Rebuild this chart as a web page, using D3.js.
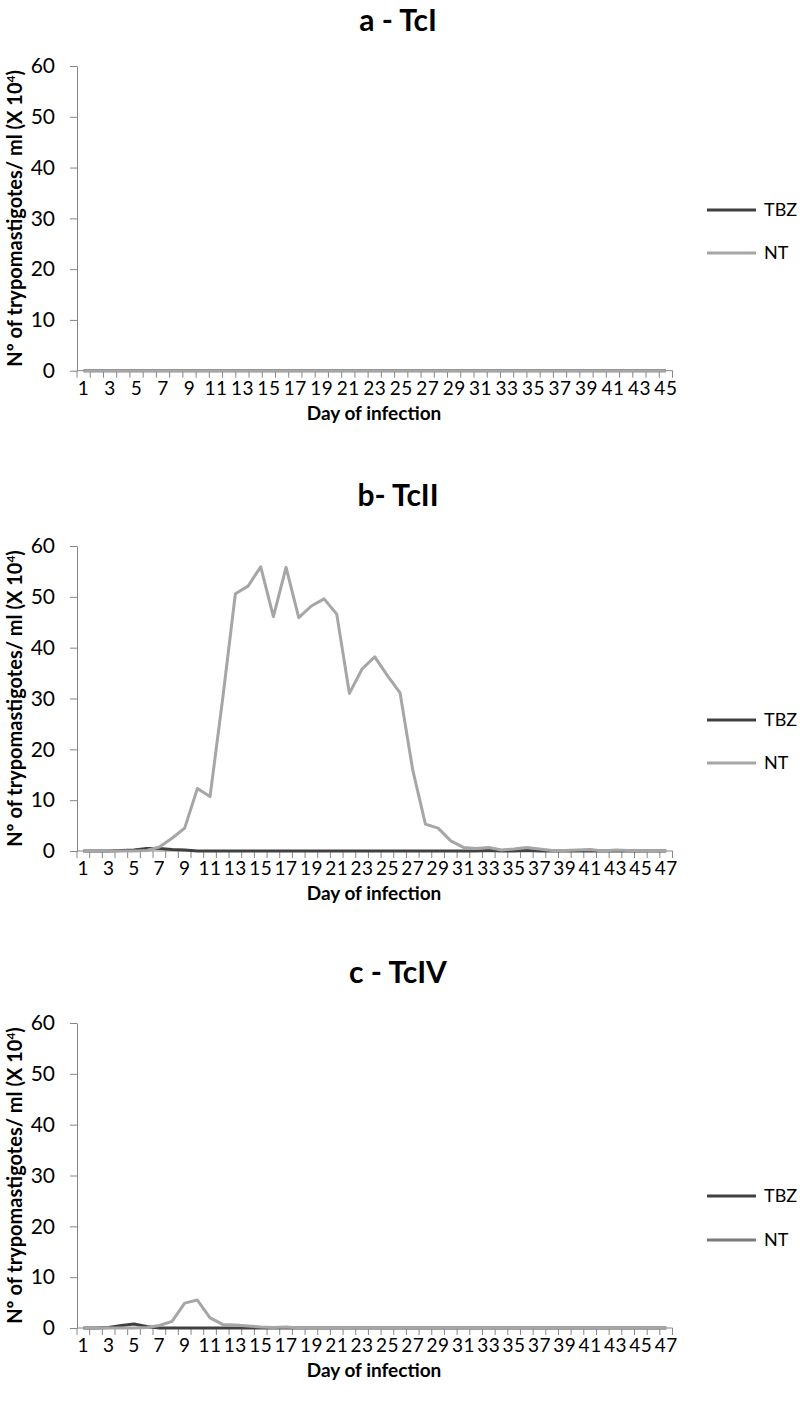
<!DOCTYPE html>
<html><head><meta charset="utf-8">
<script src="https://cdn.jsdelivr.net/npm/d3@7"></script>
<style>body{margin:0;background:#fff} text{font-family:Lato,"Open Sans",sans-serif;fill:#000}</style>
</head><body><svg id="chart" width="800" height="1402"></svg>
<script>
// ---- data ----
const daysA = [1,2,3,4,5,6,7,8,9,10,11,12,13,14,15,16,17,18,19,20,21,22,23,24,25,26,27,28,29,30,31,32,33,34,35,36,37,38,39,40,41,42,43,44,45];
const daysBC = [1,2,3,4,5,6,7,8,9,10,11,12,13,14,15,16,17,18,19,20,21,22,23,24,25,26,27,28,29,30,31,32,33,34,35,36,37,38,39,40,41,42,43,44,45,46,47];
const yTicks = [0,10,20,30,40,50,60];
const seriesNames = ["TBZ","NT"];
const panelTitles = ["a - TcI","b- TcII","c - TcIV"];

const tcI_TBZ = [0,0,0,0,0,0,0,0,0,0,0,0,0,0,0,0,0,0,0,0,0,0,0,0,0,0,0,0,0,0,0,0,0,0,0,0,0,0,0,0,0,0,0,0,0];
const tcI_NT  = [0,0,0,0,0,0,0,0,0,0,0,0,0,0,0,0,0,0,0,0,0,0,0,0,0,0,0,0,0,0,0,0,0,0,0,0,0,0,0,0,0,0,0,0,0];

const tcII_TBZ = [0,0,0,0.1,0.2,0.5,0.5,0.3,0.2,0,0,0,0,0,0,0,0,0,0,0,0,0,0,0,0,0,0,0,0,0,0,0,0.1,0,0,0.1,0,0,0,0,0,0,0,0,0,0,0];
const tcII_NT  = [0,0,0,0,0,0.1,0.8,2.5,4.5,12.3,10.7,30,50.6,52.1,55.9,46.1,55.8,45.9,48.2,49.6,46.6,31.0,35.8,38.2,34.5,31.1,15.9,5.3,4.5,2.0,0.7,0.5,0.7,0.2,0.4,0.7,0.4,0.1,0.1,0.2,0.3,0,0.2,0.1,0.1,0,0.1];

const tcIV_TBZ = [0,0,0.1,0.5,0.8,0.3,0,0,0,0,0,0,0,0,0,0,0,0,0,0,0,0,0,0,0,0,0,0,0,0,0,0,0,0,0,0,0,0,0,0,0,0,0,0,0,0,0];
const tcIV_NT  = [0,0,0,0,0,0.1,0.5,1.3,4.9,5.5,2.0,0.7,0.6,0.4,0.2,0.1,0.2,0,0,0,0,0,0,0,0,0,0,0,0,0,0,0,0,0,0,0,0,0,0,0,0,0,0,0,0,0,0];

// ---- layout ----
const svg = d3.select("#chart");
const AXIS = "#868686", DARK = "#404040", LIGHT = "#a6a6a6";
const panels = [
  {title:panelTitles[0], days:daysA, tbz:tcI_TBZ, nt:tcI_NT, top:66, bottom:370.7, titleY:31, legY:[210,253], ntLeg:LIGHT},
  {title:panelTitles[1], days:daysBC, tbz:tcII_TBZ, nt:tcII_NT, top:546, bottom:851, titleY:506, legY:[720,763], ntLeg:LIGHT},
  {title:panelTitles[2], days:daysBC, tbz:tcIV_TBZ, nt:tcIV_NT, top:1023, bottom:1328, titleY:983, legY:[1196,1240], ntLeg:"#7a7a7a"}
];
const X0 = 77, X1 = 672.5;

panels.forEach(p => {
  const g = svg.append("g");
  const x = d3.scaleBand().domain(p.days).range([X0, X1]).padding(0);
  const y = d3.scaleLinear().domain([0, 60]).range([p.bottom, p.top]);
  const bw = x.bandwidth();

  // title
  g.append("text").attr("x", 398).attr("y", p.titleY).attr("text-anchor","middle")
    .style("font-size","30px").style("font-weight","bold").text(p.title);

  // y axis
  const ya = g.append("g").attr("transform",`translate(${X0},0)`)
    .call(d3.axisLeft(y).tickValues(yTicks).tickSize(7).tickSizeOuter(0).tickPadding(15));
  ya.select(".domain").attr("stroke", AXIS);
  ya.selectAll(".tick line").attr("stroke", AXIS);
  ya.selectAll(".tick text").style("font-size","21px").style("font-family","Lato,'Open Sans',sans-serif").attr("fill","#000");

  // y title
  const yt = g.append("text")
    .attr("transform",`translate(22,${(p.top+p.bottom)/2}) rotate(-90)`)
    .attr("text-anchor","middle").style("font-size","20px").style("font-weight","bold");
  yt.append("tspan").text("Nº of trypomastigotes/ ml (X 10");
  yt.append("tspan").attr("baseline-shift","super").style("font-size","12px").text("4");
  yt.append("tspan").text(")");

  // x axis line + ticks at band boundaries
  g.append("line").attr("x1",X0).attr("x2",X1).attr("y1",y(0)).attr("y2",y(0)).attr("stroke",AXIS);
  const bounds = p.days.map(d => x(d)).concat([X1]);
  g.selectAll(".xt").data(bounds).enter().append("line")
    .attr("x1", d => d).attr("x2", d => d).attr("y1", y(0)).attr("y2", y(0)+7).attr("stroke", AXIS);
  g.selectAll(".xl").data(p.days.filter(d => d % 2 === 1)).enter().append("text")
    .attr("x", d => x(d) + bw/2).attr("y", y(0)+24).attr("text-anchor","middle")
    .style("font-size","19px").style("letter-spacing","0.5px").text(d => d);

  g.append("text").attr("x", 374).attr("y", y(0)+49).attr("text-anchor","middle")
    .style("font-size","19px").style("font-weight","bold").text("Day of infection");

  // lines
  const line = d3.line().x((v,i) => x(p.days[i]) + bw/2).y(v => y(v));
  g.append("path").datum(p.tbz).attr("d", line).attr("fill","none").attr("stroke",DARK).attr("stroke-width",3).attr("stroke-linejoin","round");
  g.append("path").datum(p.nt).attr("d", line).attr("fill","none").attr("stroke",LIGHT).attr("stroke-width",3).attr("stroke-linejoin","round");

  // legend
  const cols = [DARK, p.ntLeg];
  seriesNames.forEach((s, i) => {
    g.append("line").attr("x1",707).attr("x2",756).attr("y1",p.legY[i]).attr("y2",p.legY[i])
      .attr("stroke",cols[i]).attr("stroke-width",3);
    g.append("text").attr("x",764).attr("y",p.legY[i]).attr("dy","0.35em")
      .style("font-size","18px").text(s);
  });
});
</script></body></html>
